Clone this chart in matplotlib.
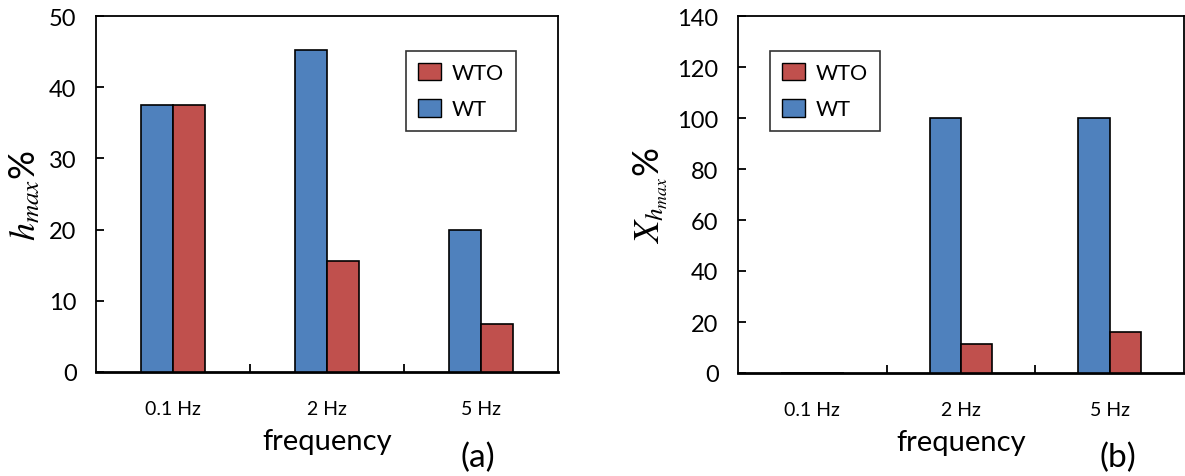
import matplotlib
matplotlib.use("Agg")
import matplotlib.pyplot as plt
from matplotlib.patches import Patch
import numpy as np

categories = ["0.1 Hz", "2 Hz", "5 Hz"]
hmax_wt = [37.5, 45.2, 20.0]
hmax_wto = [37.5, 15.6, 6.7]
xh_wt = [0.0, 100.0, 100.0]
xh_wto = [0.0, 11.4, 16.1]

BLUE = "#4F81BD"
RED = "#C0504D"
FONT = "Lato"

plt.rcParams["font.family"] = FONT
plt.rcParams["mathtext.fontset"] = "stix"

fig = plt.figure(figsize=(11.85, 4.77), dpi=100)


def panel(rect, wt, wto, ymax, ystep, ylabel, legend_loc, tag, tag_xy, ylab_x):
    ax = fig.add_axes(rect)
    x = np.arange(len(categories))
    w = 0.21
    ax.bar(x - w / 2, wt, w, color=BLUE, edgecolor="black", linewidth=1.2, zorder=3)
    ax.bar(x + w / 2, wto, w, color=RED, edgecolor="black", linewidth=1.2, zorder=3)
    ax.set_xlim(-0.5, len(categories) - 0.5)
    ax.set_ylim(0, ymax)
    ax.set_yticks(np.arange(0, ymax + 0.1, ystep))
    ax.set_xticks(x)
    ax.set_xticklabels(categories, fontsize=14)
    ax.set_xticks(np.arange(0.5, len(categories) - 0.5, 1), minor=True)
    ax.tick_params(axis="x", which="major", length=0, pad=20)
    ax.tick_params(axis="x", which="minor", direction="in", length=6, width=1.3)
    ax.tick_params(axis="y", direction="in", length=6, width=1.3, labelsize=17, pad=14)
    for s in ["top", "right", "left"]:
        ax.spines[s].set_linewidth(1.3)
    ax.spines["bottom"].set_linewidth(2.0)
    ax.set_xlabel("frequency", fontsize=21, labelpad=8)
    ax.set_ylabel(ylabel, fontsize=26)
    ax.yaxis.set_label_coords(ylab_x, 0.5)
    handles = [Patch(facecolor=RED, edgecolor="black", label="WTO"),
               Patch(facecolor=BLUE, edgecolor="black", label="WT")]
    leg = ax.legend(handles=handles, loc="upper left", bbox_to_anchor=legend_loc,
                    fontsize=15.5, frameon=True, fancybox=False, edgecolor="black",
                    handlelength=1.07, handleheight=0.88, labelspacing=0.75,
                    borderpad=0.55, handletextpad=0.5, borderaxespad=0)
    leg.get_frame().set_linewidth(1.2)
    fig.text(tag_xy[0], tag_xy[1], tag, fontsize=24, ha="center", va="center")
    return ax


panel([96 / 1185, 104 / 477, 462 / 1185, 356 / 477], hmax_wt, hmax_wto, 50, 10,
      r"$h_{max}$%", (0.671, 0.902), "(a)", (478 / 1185, 1 - 458 / 477), -0.117)
panel([738 / 1185, 103 / 477, 446 / 1185, 357 / 477], xh_wt, xh_wto, 140, 20,
      r"$X_{h_{max}}$%", (0.0717, 0.902), "(b)", (1118 / 1185, 1 - 458 / 477), -0.152)

fig.savefig("out.png", dpi=100)
